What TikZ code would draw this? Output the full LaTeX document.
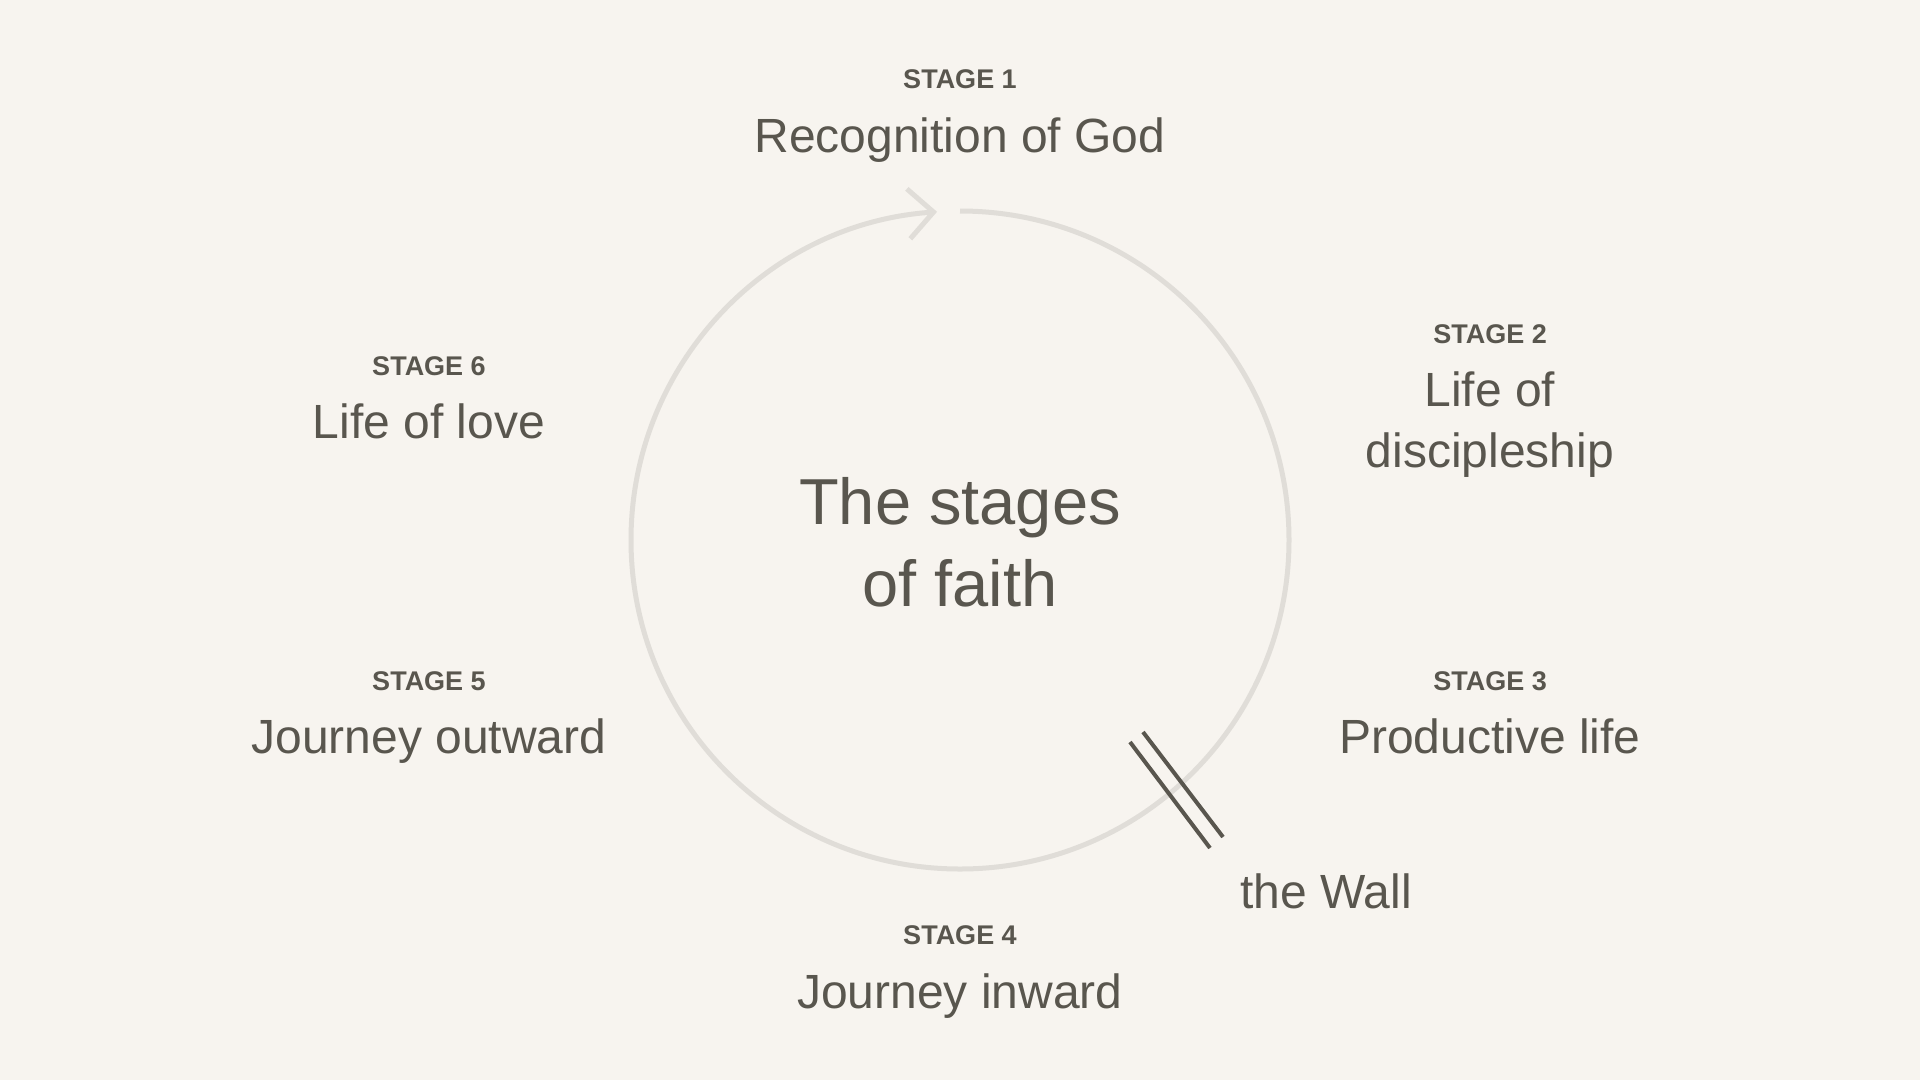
\documentclass[tikz,border=0pt]{standalone}
\usepackage{fontspec}
\setmainfont{Liberation Sans}
\usetikzlibrary{arrows.meta,calc}
\definecolor{bg}{HTML}{F7F4EF}
\definecolor{ink}{HTML}{59564E}
\definecolor{ring}{HTML}{E0DDD8}
\tikzset{
  stagelbl/.style={anchor=base, inner sep=0pt, text=ink, font=\fontsize{27}{32}\selectfont\bfseries},
  namelbl/.style={anchor=base, inner sep=0pt, text=ink, font=\fontsize{48}{56}\selectfont},
  titlelbl/.style={anchor=base, inner sep=0pt, text=ink, font=\fontsize{65}{78}\selectfont},
  ringline/.style={draw=ring, line width=5pt},
  wallline/.style={draw=ink, line width=4pt}
}
\begin{document}
\begin{tikzpicture}[x=1pt, y=-1pt]
\fill[bg] (0,0) rectangle (1920,1080);
\useasboundingbox (0,0) rectangle (1920,1080);
\coordinate (c) at (960,540);
% ring with arrow
\draw[ringline, -{Straight Barb[length=25pt, width=50pt, line width=5pt]}]
  ($(c)+(-90:329)$) arc[start angle=-90, end angle=266, radius=329];
% the wall
\coordinate (w1a) at (1130,742);
\coordinate (w1b) at (1210,848);
\coordinate (w2a) at (1143,732);
\coordinate (w2b) at (1223,837);
\draw[wallline] (w1a) -- (w1b);
\draw[wallline] (w2a) -- (w2b);
% labels
\node[stagelbl] (s1) at (960,88) {STAGE 1};
\node[namelbl] (n1) at (960,152) {Recognition of God};
\node[stagelbl] (s2) at (1490,343) {STAGE 2};
\node[namelbl] (n2a) at (1490,406) {Life of};
\node[namelbl] (n2b) at (1490,467) {discipleship};
\node[stagelbl] (s3) at (1490,690) {STAGE 3};
\node[namelbl] (n3) at (1490,753) {Productive life};
\node[stagelbl] (s4) at (960,944) {STAGE 4};
\node[namelbl] (n4) at (960,1008) {Journey inward};
\node[stagelbl] (s5) at (429,690) {STAGE 5};
\node[namelbl] (n5) at (429,753) {Journey outward};
\node[stagelbl] (s6) at (429,375) {STAGE 6};
\node[namelbl] (n6) at (429,438) {Life of love};
\node[namelbl, anchor=base west] (wall) at (1240,908) {the Wall};
\node[titlelbl] (t1) at (960,524) {The stages};
\node[titlelbl] (t2) at (960,606) {of faith};
\end{tikzpicture}
\end{document}
